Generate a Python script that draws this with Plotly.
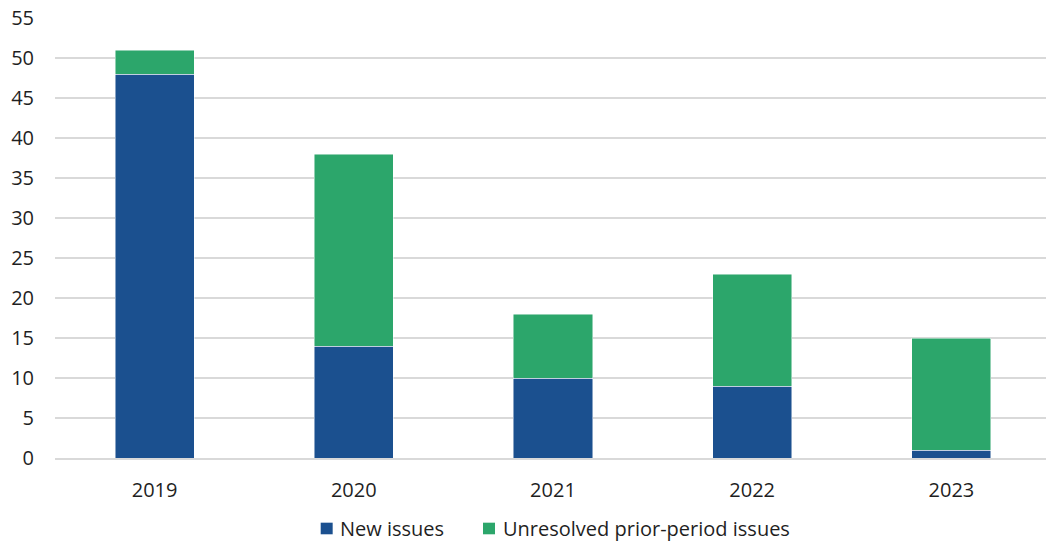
import plotly.graph_objects as go

years = ["2019", "2020", "2021", "2022", "2023"]
new_issues = [48, 14, 10, 9, 1]
unresolved_prior = [3, 24, 8, 14, 14]
y_ticks = list(range(0, 56, 5))
series_names = ["New issues", "Unresolved prior-period issues"]

blue = "#1B508F"
green = "#2CA66B"
text_color = "#1F1F1F"
font_family = "Open Sans, Noto Sans, sans-serif"
font_size = 20

fig = go.Figure()
fig.add_trace(go.Bar(
    x=years, y=new_issues, name=series_names[0],
    marker=dict(color=blue, line=dict(color="rgba(255,255,255,0.6)", width=0.8)),
))
fig.add_trace(go.Bar(
    x=years, y=unresolved_prior, name=series_names[1],
    marker=dict(color=green, line=dict(color="rgba(255,255,255,0.6)", width=0.8)),
))

# Legend drawn below the plot as swatches + labels (paper coordinates)
legend_items = [
    (series_names[0], blue, 0.2681, 0.2802, 0.2856),
    (series_names[1], green, 0.4319, 0.4440, 0.4500),
]
for name, color, x0, x1, xt in legend_items:
    fig.add_shape(type="rect", xref="paper", yref="paper",
                  x0=x0, x1=x1, y0=-0.1734, y1=-0.1470,
                  fillcolor=color, line=dict(width=0))
    fig.add_annotation(text=name, xref="paper", yref="paper",
                       x=xt, y=-0.1602, xanchor="left", yanchor="middle",
                       showarrow=False,
                       font=dict(size=font_size, color=text_color))

fig.update_layout(
    width=1046, height=543,
    barmode="stack",
    bargap=0.603,
    showlegend=False,
    plot_bgcolor="white", paper_bgcolor="white",
    margin=dict(l=55, r=0, t=18, b=85),
    font=dict(family=font_family, size=font_size, color=text_color),
    xaxis=dict(
        type="category", range=[-0.5, 4.475],
        showgrid=False, showline=True, linecolor="#d9d9d9", linewidth=1.5,
        ticks="", ticklabelstandoff=13,
        tickfont=dict(size=font_size, color=text_color),
    ),
    yaxis=dict(
        range=[0, 55], tickvals=y_ticks,
        showgrid=True, gridcolor="#d9d9d9", gridwidth=1.5,
        zeroline=False, showline=False, ticks="", ticklabelstandoff=20,
        tickfont=dict(size=font_size, color=text_color),
    ),
)

fig.write_html("out.html")
